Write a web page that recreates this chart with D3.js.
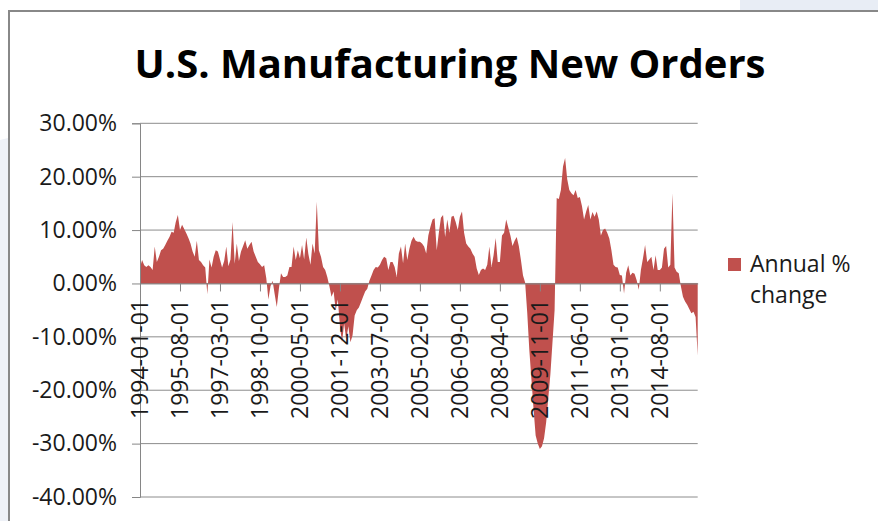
<!DOCTYPE html>
<html>
<head>
<meta charset="utf-8">
<script src="https://cdn.jsdelivr.net/npm/d3@7"></script>
<style>
  body { margin: 0; background: #fff; }
  svg { display: block; }
  text { font-family: "Open Sans", "Noto Sans", sans-serif; fill: #1a1a1a; }
</style>
</head>
<body>
<div class="chart"></div>
<script>
// annual % change, one array per year (monthly)
const v1994 = [3.0, 4.4, 3.4, 3.1, 3.4, 3.1, 2.5, 6.9, 4.0, 5.0, 6.2, 6.5];
const v1995 = [7.2, 8.0, 8.7, 9.7, 9.5, 11.5, 12.8, 10.0, 11.0, 10.2, 9.4, 8.5];
const v1996 = [7.5, 6.0, 5.0, 8.0, 4.4, 4.0, 3.4, 3.0, -2.0, 4.5, 3.0, 5.0];
const v1997 = [6.2, 6.0, 4.5, 3.0, 4.2, 6.9, 3.2, 4.5, 11.5, 3.7, 7.5, 4.2];
const v1998 = [6.0, 7.0, 8.1, 6.5, 7.2, 7.8, 6.0, 5.0, 4.0, 3.6, 3.1, 3.4];
const v1999 = [1.0, -3.0, -0.5, 0.5, -2.0, -4.4, -1.0, 1.9, 1.2, 1.2, 1.5, 3.1];
const v2000 = [3.1, 6.9, 4.4, 6.2, 4.7, 7.2, 4.5, 8.6, 5.5, 3.5, 7.5, 5.6];
const v2001 = [15.3, 6.2, 5.0, 3.1, 2.5, 1.2, -0.5, -2.5, -1.5, -5.0, -3.0, -8.0];
const v2002 = [-11.0, -7.5, -10.5, -8.0, -11.0, -9.7, -6.0, -5.0, -4.5, -3.5, -2.5, -1.5];
const v2003 = [-1.0, 0.5, 1.5, 2.5, 3.1, 3.0, 3.5, 4.4, 5.0, 4.7, 2.5, 4.0];
const v2004 = [4.0, 3.1, 1.2, 5.6, 6.9, 3.8, 7.5, 4.4, 6.5, 8.0, 8.75, 8.0];
const v2005 = [7.8, 7.8, 7.5, 6.9, 5.6, 9.0, 10.6, 12.0, 12.2, 6.2, 9.5, 12.3];
const v2006 = [12.8, 8.7, 12.0, 9.5, 12.5, 12.7, 11.5, 10.0, 12.5, 13.5, 9.5, 7.5];
const v2007 = [6.9, 6.5, 5.6, 5.0, 2.8, 1.6, 2.5, 2.8, 2.5, 3.5, 6.9, 3.1];
const v2008 = [5.3, 8.5, 4.0, 4.0, 9.0, 9.5, 12.0, 10.5, 9.0, 7.0, 8.0, 8.7];
const v2009 = [7.0, 4.4, 1.5, 0.2, -5.5, -12.5, -18.0, -23.5, -28.5, -30.0, -31.0, -30.5];
const v2010 = [-29.0, -26.0, -21.5, -17.0, -11.0, -5.0, 16.0, 15.8, 17.5, 21.9, 23.5, 19.5];
const v2011 = [17.5, 16.9, 16.5, 17.5, 16.0, 16.2, 14.5, 12.0, 13.5, 14.7, 12.0, 13.4];
const v2012 = [12.5, 13.5, 12.0, 9.0, 10.0, 10.3, 9.5, 8.4, 6.2, 3.5, 3.1, 3.0];
const v2013 = [1.6, 1.5, -1.9, 2.0, 3.4, 1.5, 2.0, 1.8, 0.6, -1.2, 2.5, 4.7];
const v2014 = [7.2, 4.0, 4.5, 5.0, 2.5, 5.3, 2.5, 2.5, 3.0, 6.5, 7.0, 3.0];
const v2015 = [3.5, 16.9, 3.0, 2.2, 1.9, -0.5, -2.5, -3.4, -4.0, -4.8, -5.6, -5.3];
const v2016 = [-6.3, -13.5];

const values = [].concat(v1994, v1995, v1996, v1997, v1998, v1999, v2000, v2001,
  v2002, v2003, v2004, v2005, v2006, v2007, v2008, v2009, v2010, v2011, v2012,
  v2013, v2014, v2015, v2016);

// monthly categories starting 1994-01-01
const dates = values.map((v, i) => {
  const yr = 1994 + Math.floor(i / 12);
  const mo = String((i % 12) + 1).padStart(2, "0");
  return yr + "-" + mo + "-01";
});

const tickLabels = ["1994-01-01", "1995-08-01", "1997-03-01", "1998-10-01",
  "2000-05-01", "2001-12-01", "2003-07-01", "2005-02-01", "2006-09-01",
  "2008-04-01", "2009-11-01", "2011-06-01", "2013-01-01", "2014-08-01"];

const yTicks = [30, 20, 10, 0, -10, -20, -30, -40];

const data = dates.map((d, i) => ({ date: d, v: values[i] }));

const W = 878, H = 521;
const svg = d3.select(".chart").append("svg").attr("width", W).attr("height", H);

// slide background bits
svg.append("rect").attr("x", 740).attr("y", 0).attr("width", 138).attr("height", 11).attr("fill", "#e8edf5");
svg.append("path").attr("d", "M0,140 L8,138 L8,521 L0,521 Z").attr("fill", "#eef1f7");

// chart frame
svg.append("path")
  .attr("d", "M9,521 L9,11 L878,11")
  .attr("fill", "none")
  .attr("stroke", "#888")
  .attr("stroke-width", 2);

// title
svg.append("text")
  .text("U.S. Manufacturing New Orders")
  .attr("x", 450)
  .attr("y", 78)
  .attr("text-anchor", "middle")
  .attr("textLength", 631)
  .attr("lengthAdjust", "spacingAndGlyphs")
  .style("font-size", "40px")
  .style("font-weight", "bold")
  .style("fill", "#000");

const x = d3.scalePoint().domain(dates).range([140, 697.7]);
const y = d3.scaleLinear().domain([-40, 30]).range([497, 123.3]);

// gridlines
svg.append("g")
  .selectAll("line")
  .data(yTicks)
  .join("line")
  .attr("x1", 140)
  .attr("x2", 697.7)
  .attr("y1", d => y(d))
  .attr("y2", d => y(d))
  .attr("stroke", "#8c8c8c")
  .attr("stroke-width", 1);

// area
const area = d3.area()
  .x(d => x(d.date))
  .y0(y(0))
  .y1(d => y(d.v));

svg.append("path")
  .datum(data)
  .attr("d", area)
  .attr("fill", "#C0504D");

// y axis
const yAxis = svg.append("g")
  .attr("transform", "translate(140,0)")
  .call(d3.axisLeft(y).tickValues(yTicks).tickSize(8).tickPadding(15)
    .tickFormat(d => d.toFixed(2) + "%"));
yAxis.select(".domain").attr("stroke", "#868686");
yAxis.selectAll(".tick line").attr("stroke", "#868686");
yAxis.selectAll(".tick text")
  .style("font-size", "23px")
  .style("font-family", "'Open Sans', sans-serif")
  .attr("fill", "#1a1a1a");

// x axis at zero
const xAxis = svg.append("g")
  .attr("transform", "translate(0," + y(0) + ")")
  .call(d3.axisBottom(x).tickValues(tickLabels).tickSize(8).tickSizeOuter(0).tickFormat(""));
xAxis.select(".domain").attr("stroke", "#868686");
xAxis.selectAll(".tick line").attr("stroke", "#868686");

svg.append("g")
  .selectAll("text")
  .data(tickLabels)
  .join("text")
  .text(d => d)
  .attr("transform", d => "translate(" + (x(d) + 8) + ",299) rotate(-90)")
  .attr("text-anchor", "end")
  .style("font-size", "23px");

// legend
svg.append("rect")
  .attr("x", 728).attr("y", 258)
  .attr("width", 13).attr("height", 13)
  .attr("fill", "#C0504D");
svg.append("text").text("Annual %").attr("x", 750).attr("y", 272).style("font-size", "23px");
svg.append("text").text("change").attr("x", 750).attr("y", 303).style("font-size", "23px");
</script>
</body>
</html>
